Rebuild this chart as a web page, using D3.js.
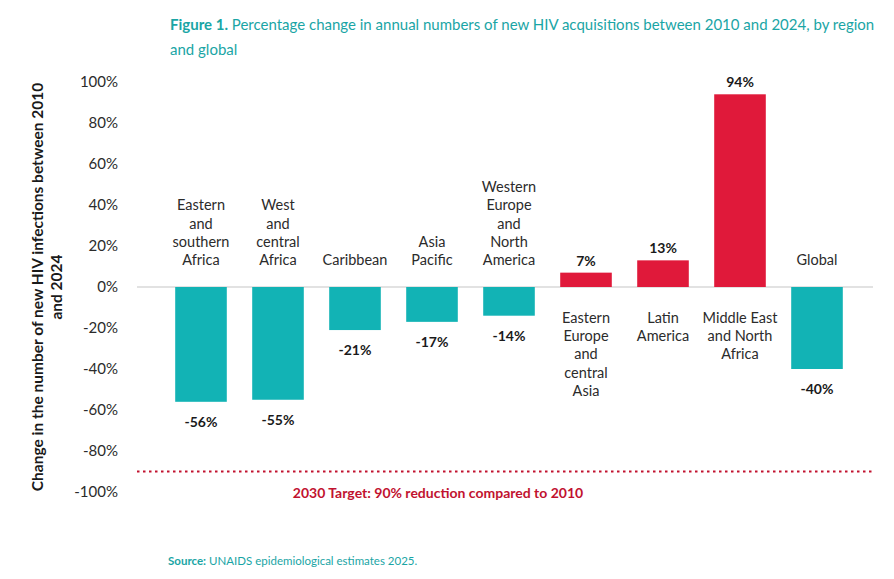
<!DOCTYPE html>
<html>
<head>
<meta charset="utf-8">
<script src="https://cdn.jsdelivr.net/npm/d3@7"></script>
<style>
  body { margin: 0; background: #fff; }
  text { font-family: Lato, "Open Sans", sans-serif; }
</style>
</head>
<body>
<script>
// Chart data
const regions = [
  ['Eastern', 'and', 'southern', 'Africa'],
  ['West', 'and', 'central', 'Africa'],
  ['Caribbean'],
  ['Asia', 'Pacific'],
  ['Western', 'Europe', 'and', 'North', 'America'],
  ['Eastern', 'Europe', 'and', 'central', 'Asia'],
  ['Latin', 'America'],
  ['Middle East', 'and North', 'Africa'],
  ['Global']
];
const changes = [-56, -55, -21, -17, -14, 7, 13, 94, -40];
const yTicks = [100, 80, 60, 40, 20, 0, -20, -40, -60, -80, -100];
const target = -90;

const TEAL = '#12b3b5';
const RED = '#e0193a';
const DARK_RED = '#c1122f';
const TITLE_TEAL = '#1aa5a5';

const W = 894, H = 579;
const svg = d3.select('body').append('svg')
  .attr('width', W)
  .attr('height', H);

// Title
const title = svg.append('text')
  .attr('x', 170)
  .attr('y', 30)
  .attr('font-size', '15px')
  .attr('fill', TITLE_TEAL);
title.append('tspan').attr('font-weight', 'bold').text('Figure 1.');
title.append('tspan').text(' Percentage change in annual numbers of new HIV acquisitions between 2010 and 2024, by region');
svg.append('text')
  .attr('x', 170)
  .attr('y', 55)
  .attr('font-size', '15px')
  .attr('fill', TITLE_TEAL)
  .text('and global');

const y = d3.scaleLinear().domain([-100, 100]).range([492, 82]);
const x = d3.scaleBand()
  .domain(d3.range(regions.length))
  .range([162.5, 855.5])
  .paddingInner(0.33)
  .paddingOuter(0.165);

const LINE_LEFT = 137, LINE_RIGHT = 873;

// Y axis labels (no axis line)
const yAxis = d3.axisLeft(y)
  .tickValues(yTicks)
  .tickSize(0)
  .tickPadding(0)
  .tickFormat(d => d + '%');
const gy = svg.append('g')
  .attr('transform', 'translate(118,0)')
  .call(yAxis);
gy.select('.domain').remove();
gy.selectAll('text')
  .attr('font-size', '15px')
  .attr('fill', '#2b2b2b')
  .attr('font-family', 'Lato, sans-serif');

// Y axis title
const yTitle = svg.append('text')
  .attr('transform', 'translate(43,' + y(0) + ') rotate(-90)')
  .attr('text-anchor', 'middle')
  .attr('font-size', '15.5px')
  .attr('font-weight', 'bold')
  .attr('fill', '#1a1a1a');
yTitle.append('tspan').attr('x', 0).attr('dy', '0').text('Change in the number of new HIV infections between 2010');
yTitle.append('tspan').attr('x', 0).attr('dy', '19').text('and 2024');

// Zero line
svg.append('line')
  .attr('x1', LINE_LEFT).attr('x2', LINE_RIGHT)
  .attr('y1', y(0)).attr('y2', y(0))
  .attr('stroke', '#d9d9d9')
  .attr('stroke-width', 1.5);

// Bars
svg.selectAll('rect.bar')
  .data(changes)
  .enter()
  .append('rect')
    .attr('class', 'bar')
    .attr('x', (d, i) => x(i))
    .attr('width', x.bandwidth())
    .attr('y', d => d >= 0 ? y(d) : y(0))
    .attr('height', d => Math.abs(y(d) - y(0)))
    .attr('fill', d => d >= 0 ? RED : TEAL);

// Value labels
svg.selectAll('text.value')
  .data(changes)
  .enter()
  .append('text')
    .attr('class', 'value')
    .attr('x', (d, i) => x(i) + x.bandwidth() / 2)
    .attr('y', d => d >= 0 ? y(d) - 7 : y(d) + 25)
    .attr('text-anchor', 'middle')
    .attr('font-size', '14px')
    .attr('font-weight', 'bold')
    .attr('fill', '#1a1a1a')
    .text(d => d + '%');

// Category labels
const LINE_H = 18.2;
regions.forEach((lines, i) => {
  const v = changes[i];
  const cx = x(i) + x.bandwidth() / 2;
  const t = svg.append('text')
    .attr('text-anchor', 'middle')
    .attr('font-size', '14.5px')
    .attr('fill', '#2b2b2b');
  lines.forEach((ln, j) => {
    const yy = v < 0
      ? y(0) - 22 - (lines.length - 1 - j) * LINE_H
      : y(0) + 36 + j * LINE_H;
    t.append('tspan').attr('x', cx).attr('y', yy).text(ln);
  });
});

// Target line
svg.append('line')
  .attr('x1', LINE_LEFT).attr('x2', LINE_RIGHT)
  .attr('y1', y(target)).attr('y2', y(target))
  .attr('stroke', DARK_RED)
  .attr('stroke-width', 1.8)
  .attr('stroke-dasharray', '2.5,3.5');

svg.append('text')
  .attr('x', 438)
  .attr('y', 498)
  .attr('text-anchor', 'middle')
  .attr('font-size', '14px')
  .attr('font-weight', 'bold')
  .attr('fill', DARK_RED)
  .text('2030 Target: 90% reduction compared to 2010');

// Source
const src = svg.append('text')
  .attr('x', 168)
  .attr('y', 565)
  .attr('font-size', '11.5px')
  .attr('fill', TITLE_TEAL);
src.append('tspan').attr('font-weight', 'bold').text('Source:');
src.append('tspan').text(' UNAIDS epidemiological estimates 2025.');
</script>
</body>
</html>
